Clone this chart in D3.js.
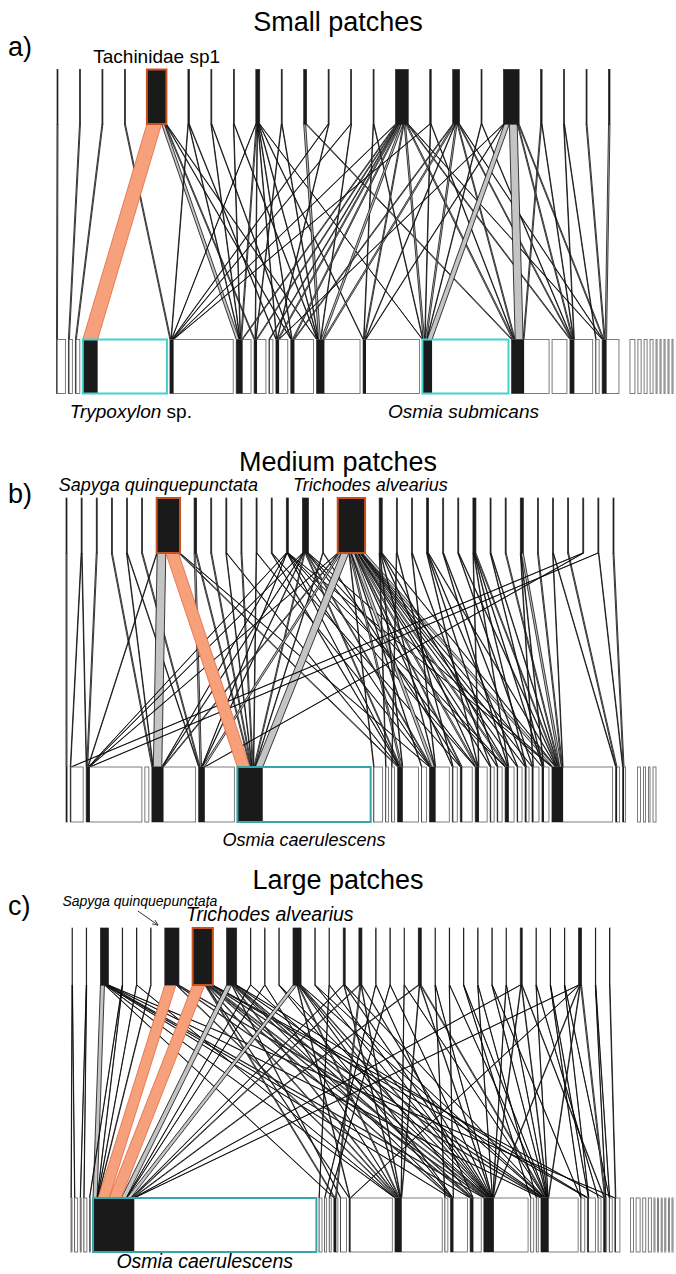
<!DOCTYPE html>
<html>
<head>
<meta charset="utf-8">
<script src="https://cdn.jsdelivr.net/npm/d3@7/dist/d3.min.js"></script>
<style>
  body { margin: 0; background: #fff; }
  svg { display: block; font-family: "Liberation Sans", Arial, sans-serif; }
</style>
</head>
<body>
<svg id="chart" width="676" height="1274"></svg>
<script>
// ---- small patches: links [parasite, host, brood cells] ----
const smallLinks = [
  [0, 0, 4], [1, 1, 4], [2, 2, 4], [3, 4, 4],
  [4, 3, 60], [4, 5, 12], [4, 6, 4], [4, 9, 2], [4, 10, 2],
  [5, 4, 2], [5, 5, 2], [5, 8, 2],
  [6, 5, 2], [6, 9, 2],
  [7, 5, 2], [7, 10, 2],
  [8, 4, 1], [8, 5, 4], [8, 6, 2], [8, 8, 2], [8, 9, 2], [8, 10, 2], [8, 11, 2], [8, 12, 1],
  [9, 6, 2], [9, 10, 2],
  [10, 10, 8], [10, 13, 4],
  [11, 4, 2], [11, 8, 2],
  [12, 4, 2], [12, 10, 2],
  [13, 11, 2], [13, 12, 2],
  [14, 4, 2], [14, 5, 4], [14, 6, 4], [14, 7, 3], [14, 8, 5], [14, 9, 5], [14, 10, 8], [14, 11, 4], [14, 12, 6], [14, 13, 5], [14, 15, 4], [14, 17, 2],
  [15, 4, 2], [15, 12, 2], [15, 13, 2],
  [16, 9, 4], [16, 10, 6], [16, 11, 2], [16, 12, 6], [16, 13, 4], [16, 15, 4], [16, 17, 2],
  [17, 12, 2], [17, 15, 2],
  [18, 8, 2], [18, 11, 2], [18, 12, 20], [18, 13, 32], [18, 15, 4], [18, 17, 4],
  [19, 13, 4], [19, 15, 2],
  [20, 15, 2], [20, 16, 2],
  [21, 17, 4],
  [22, 17, 6],
];
const smallHighCount = 23;
// host abundances (cells), unlinked hosts at the end
const smallLowAbun = [36, 16, 18, 340, 256, 60, 48, 16, 48, 92, 176, 228, 348, 152, 60, 92, 14, 68,
  20, 13, 12, 12, 4, 4, 4, 4, 4];

// ---- medium patches ----
const mediumLinks = [
  [0, 0, 4], [1, 1, 2], [1, 2, 2], [2, 2, 4], [3, 4, 4], [4, 4, 2], [4, 5, 2], [5, 5, 4],
  [6, 2, 2], [6, 4, 34], [6, 6, 50], [6, 10, 4], [6, 12, 2],
  [7, 5, 6], [7, 6, 4],
  [8, 6, 4],
  [9, 6, 2], [9, 10, 2],
  [10, 6, 4],
  [11, 6, 2], [11, 12, 2],
  [12, 10, 2], [12, 14, 2],
  [13, 2, 1], [13, 4, 1], [13, 5, 1], [13, 10, 1], [13, 12, 1], [13, 15, 1], [13, 18, 1], [13, 23, 1],
  [14, 2, 2], [14, 4, 2], [14, 5, 2], [14, 6, 4], [14, 10, 4], [14, 12, 4], [14, 15, 2], [14, 18, 2], [14, 23, 2],
  [15, 6, 2], [15, 14, 2],
  [16, 2, 2], [16, 4, 4], [16, 5, 8], [16, 6, 30], [16, 7, 2], [16, 10, 6], [16, 11, 2], [16, 12, 12], [16, 13, 2],
  [16, 14, 4], [16, 15, 6], [16, 16, 2], [16, 17, 2], [16, 18, 6], [16, 19, 2], [16, 20, 2], [16, 21, 2], [16, 22, 2], [16, 23, 12],
  [17, 8, 2], [17, 10, 2], [17, 12, 2], [17, 15, 2], [17, 18, 2], [17, 23, 2],
  [18, 9, 2], [18, 13, 2],
  [19, 12, 2], [19, 16, 2],
  [20, 15, 2], [20, 17, 2], [20, 19, 2], [20, 23, 2],
  [21, 18, 2], [21, 20, 2],
  [22, 21, 2], [22, 23, 2],
  [23, 15, 2], [23, 18, 2], [23, 20, 2], [23, 22, 2], [23, 23, 4],
  [24, 22, 2], [24, 23, 2],
  [25, 23, 4],
  [26, 21, 2], [26, 22, 2], [26, 23, 8],
  [27, 23, 4],
  [28, 23, 2], [28, 24, 2],
  [29, 24, 4],
  [30, 1, 2], [30, 5, 2],
  [31, 2, 2], [31, 25, 2],
  [32, 25, 4],
];
const mediumHighCount = 33;
const mediumLowAbun = [5, 52, 224, 16, 176, 144, 536, 36, 12, 12, 84, 20, 80, 20, 48, 48, 16, 20, 36, 20, 16, 28, 28, 244, 16, 12,
  12, 8, 6, 12];

// ---- large patches ----
const largeLinks = [
  [0, 0, 1], [0, 1, 1], [1, 2, 1], [1, 3, 1],
  [2, 5, 16], [2, 9, 2], [2, 12, 2], [2, 14, 2], [2, 15, 2], [2, 16, 4], [2, 19, 2], [2, 25, 2],
  [3, 4, 1], [3, 5, 1], [4, 5, 1], [4, 12, 1], [5, 5, 2],
  [6, 5, 44], [6, 12, 4], [6, 16, 4], [6, 19, 4],
  [7, 5, 48], [7, 9, 4], [7, 11, 2], [7, 12, 4], [7, 14, 4], [7, 15, 4], [7, 16, 6], [7, 19, 4], [7, 21, 2], [7, 23, 2],
  [8, 5, 20], [8, 10, 2], [8, 12, 4], [8, 14, 2], [8, 15, 4], [8, 16, 4], [8, 19, 2], [8, 21, 2],
  [9, 5, 1], [9, 16, 1], [10, 5, 1], [10, 12, 1], [11, 14, 1], [11, 16, 1],
  [12, 5, 16], [12, 11, 2], [12, 12, 4], [12, 14, 2], [12, 15, 2], [12, 16, 4], [12, 19, 2],
  [13, 16, 1], [13, 19, 1], [14, 6, 1], [14, 16, 1],
  [15, 5, 2], [15, 12, 2], [15, 16, 2], [15, 19, 2],
  [16, 5, 4], [16, 9, 4], [16, 12, 2], [16, 16, 2],
  [17, 7, 1], [17, 15, 1], [18, 8, 1], [18, 16, 1], [19, 12, 1], [19, 19, 1],
  [20, 5, 4], [20, 12, 2], [20, 16, 2], [20, 19, 4],
  [21, 13, 1], [21, 16, 1], [22, 14, 1], [22, 19, 1], [23, 17, 1], [23, 19, 1],
  [24, 16, 1], [24, 18, 1], [25, 19, 1], [25, 20, 1], [26, 16, 1], [26, 19, 1],
  [27, 5, 2], [27, 16, 2], [27, 19, 2], [27, 23, 2],
  [28, 19, 1], [28, 22, 1], [29, 20, 1], [29, 21, 1], [30, 21, 1], [30, 24, 1],
  [31, 5, 2], [31, 11, 2], [31, 16, 2], [31, 19, 2], [31, 23, 4],
  [32, 23, 1], [32, 24, 1],
  [33, 25, 2],
];
const largeHighCount = 34;
const largeLowAbun = [4, 12, 4, 12, 4, 888, 12, 8, 8, 16, 24, 172, 188, 12, 68, 44, 176, 12, 8, 148, 16, 32, 12, 12, 12, 20,
  12, 16, 12, 12, 4, 4, 4, 4, 4, 4];

const titles = ['Small patches', 'Medium patches', 'Large patches'];
const letters = ['a)', 'b)', 'c)'];

const svg = d3.select('#chart');

const COL_BOX = '#1a1a1a';
const COL_LINK = '#c4c4c4';
const COL_HL = '#f7a17c';
const COL_HL_EDGE = '#e2673c';
const COL_HL_BOX = '#c9501f';

const panels = [
  {
    links: smallLinks, nHigh: smallHighCount, abun: smallLowAbun,
    titleY: 31, letterY: 56,
    hiTop: 69.5, hiBot: 124, loTop: 339.5, loBot: 393.5,
    hiRange: [57, 610], hiGap: 21.5, loRange: [56.5, 673], loGap: 3, tailGap: 8,
    hlLinks: [[4, 3]], hlHigh: [4], hlLow: [3, 12], cyan: '#45cfcf',
  },
  {
    links: mediumLinks, nHigh: mediumHighCount, abun: mediumLowAbun,
    titleY: 471, letterY: 503,
    hiTop: 498, hiBot: 553, loTop: 767, loBot: 822,
    hiRange: [66, 614], hiGap: 14.1, loRange: [66, 656], loGap: 3, tailGap: 9,
    hlLinks: [[6, 6]], hlHigh: [6, 16], hlLow: [6], cyan: '#34a8a8',
  },
  {
    links: largeLinks, nHigh: largeHighCount, abun: largeLowAbun,
    titleY: 889, letterY: 915,
    hiTop: 928, hiBot: 985, loTop: 1198, loBot: 1252,
    hiRange: [72, 610], hiGap: 13.7, loRange: [71, 673], loGap: 2.6, tailGap: 8,
    hlLinks: [[6, 5], [7, 5]], hlHigh: [7], hlLow: [5], cyan: '#34a8a8',
  },
];

// lay boxes out side by side, widths through a linear scale
function layout(totals, range, gap, tailStart, tailGap) {
  const n = totals.length;
  const extra = tailStart < n ? tailGap : 0;
  const w = d3.scaleLinear()
    .domain([0, d3.sum(totals)])
    .range([0, range[1] - range[0] - gap * (n - 1) - extra]);
  let pos = range[0];
  const boxes = totals.map((t, i) => {
    if (i === tailStart && i > 0) pos += extra;
    const b = { x: pos, w: w(t) };
    pos += w(t) + gap;
    return b;
  });
  return { boxes, w };
}

function drawPanel(p, k) {
  const g = svg.append('g').attr('class', 'panel-' + k);

  const hiTot = d3.range(p.nHigh).map(i => d3.sum(p.links.filter(l => l[0] === i), l => l[2]));
  const loInt = p.abun.map((_, j) => d3.sum(p.links.filter(l => l[1] === j), l => l[2]));
  const lastLinked = d3.max(p.links, l => l[1]);

  const hi = layout(hiTot, p.hiRange, p.hiGap, p.nHigh, 0);
  const lo = layout(p.abun.map((a, j) => Math.max(a, loInt[j])), p.loRange, p.loGap, lastLinked + 1, p.tailGap);

  // link end segments
  const hiOff = hiTot.map(() => 0);
  const loOff = loInt.map(() => 0);
  const segs = [];
  p.links.slice().sort((a, b) => a[0] - b[0] || a[1] - b[1]).forEach(l => {
    const [i, j, n] = l;
    const hb = hi.boxes[i];
    const x0 = hb.x + hi.w(hiOff[i]);
    hiOff[i] += n;
    segs.push({ i, j, n, hx0: x0, hx1: hb.x + hi.w(hiOff[i]) });
  });
  segs.slice().sort((a, b) => a.j - b.j || a.i - b.i).forEach(s => {
    const lb = lo.boxes[s.j];
    s.lx0 = lb.x + lo.w(loOff[s.j]);
    loOff[s.j] += s.n;
    s.lx1 = lb.x + lo.w(loOff[s.j]);
    s.hl = p.hlLinks.some(h => h[0] === s.i && h[1] === s.j);
  });

  const poly = s => [[s.hx0, p.hiBot], [s.hx1, p.hiBot], [s.lx1, p.loTop], [s.lx0, p.loTop]];
  const line = d3.line();

  g.append('g').selectAll('path')
    .data(segs.filter(s => !s.hl))
    .join('path')
    .attr('d', s => line(poly(s)) + 'Z')
    .attr('fill', COL_LINK)
    .attr('stroke', '#000')
    .attr('stroke-width', 0.75)
    .attr('stroke-linejoin', 'round');

  g.append('g').selectAll('path')
    .data(segs.filter(s => s.hl))
    .join('path')
    .attr('d', s => line(poly(s)) + 'Z')
    .attr('fill', COL_HL)
    .attr('stroke', COL_HL_EDGE)
    .attr('stroke-width', 0.8);

  // parasite boxes
  g.append('g').selectAll('rect')
    .data(hi.boxes)
    .join('rect')
    .attr('x', b => b.x)
    .attr('y', p.hiTop)
    .attr('width', b => b.w)
    .attr('height', p.hiBot - p.hiTop)
    .attr('fill', COL_BOX)
    .attr('stroke', (b, i) => p.hlHigh.includes(i) ? COL_HL_BOX : '#222')
    .attr('stroke-width', (b, i) => p.hlHigh.includes(i) ? 2 : 0.7);

  // host boxes: abundance outline, interaction part in black
  const lg = g.append('g');
  lg.selectAll('rect.abun')
    .data(lo.boxes)
    .join('rect')
    .attr('class', 'abun')
    .attr('x', b => b.x)
    .attr('y', p.loTop)
    .attr('width', b => b.w)
    .attr('height', p.loBot - p.loTop)
    .attr('fill', '#fff')
    .attr('stroke', '#6e6e6e')
    .attr('stroke-width', 0.9);
  lg.selectAll('rect.int')
    .data(lo.boxes.filter((b, j) => loInt[j] > 0))
    .join('rect')
    .attr('class', 'int')
    .attr('x', b => b.x)
    .attr('y', p.loTop)
    .attr('width', b => lo.w(loInt[lo.boxes.indexOf(b)]))
    .attr('height', p.loBot - p.loTop)
    .attr('fill', COL_BOX);
  lg.selectAll('rect.hl')
    .data(p.hlLow.map(j => lo.boxes[j]))
    .join('rect')
    .attr('class', 'hl')
    .attr('x', b => b.x)
    .attr('y', p.loTop)
    .attr('width', b => b.w)
    .attr('height', p.loBot - p.loTop)
    .attr('fill', 'none')
    .attr('stroke', p.cyan)
    .attr('stroke-width', 2);

  // titles
  g.append('text')
    .attr('x', 338)
    .attr('y', p.titleY)
    .attr('text-anchor', 'middle')
    .attr('font-size', 27)
    .text(titles[k]);
  g.append('text')
    .attr('x', 8)
    .attr('y', p.letterY)
    .attr('font-size', 27)
    .text(letters[k]);

  return { hi, lo, g };
}

const res = panels.map(drawPanel);

function centerHi(r, i) { const b = r.hi.boxes[i]; return b.x + b.w / 2; }
function centerLo(r, j) { const b = r.lo.boxes[j]; return b.x + b.w / 2; }

// species labels
const a = res[0], b = res[1], c = res[2];

a.g.append('text')
  .attr('x', centerHi(a, 4))
  .attr('y', 63)
  .attr('text-anchor', 'middle')
  .attr('font-size', 19)
  .text('Tachinidae sp1');

const tryp = a.g.append('text')
  .attr('x', centerLo(a, 3) + 6)
  .attr('y', 418)
  .attr('text-anchor', 'middle')
  .attr('font-size', 19);
tryp.append('tspan').attr('font-style', 'italic').text('Trypoxylon');
tryp.append('tspan').text(' sp.');

a.g.append('text')
  .attr('x', centerLo(a, 12) - 2)
  .attr('y', 418)
  .attr('text-anchor', 'middle')
  .attr('font-size', 19)
  .attr('font-style', 'italic')
  .text('Osmia submicans');

b.g.append('text')
  .attr('x', centerHi(b, 6) - 10)
  .attr('y', 491)
  .attr('text-anchor', 'middle')
  .attr('font-size', 18)
  .attr('font-style', 'italic')
  .text('Sapyga quinquepunctata');

b.g.append('text')
  .attr('x', centerHi(b, 16) + 19)
  .attr('y', 491)
  .attr('text-anchor', 'middle')
  .attr('font-size', 18)
  .attr('font-style', 'italic')
  .text('Trichodes alvearius');

b.g.append('text')
  .attr('x', centerLo(b, 6))
  .attr('y', 846)
  .attr('text-anchor', 'middle')
  .attr('font-size', 18)
  .attr('font-style', 'italic')
  .text('Osmia caerulescens');

c.g.append('text')
  .attr('x', centerHi(c, 6) - 32)
  .attr('y', 906)
  .attr('text-anchor', 'middle')
  .attr('font-size', 14)
  .attr('font-style', 'italic')
  .text('Sapyga quinquepunctata');

// little arrow to the Sapyga box
const ax = centerHi(c, 6) - 14;
c.g.append('defs').append('marker')
  .attr('id', 'arr')
  .attr('viewBox', '0 0 10 10')
  .attr('refX', 9).attr('refY', 5)
  .attr('markerWidth', 6).attr('markerHeight', 6)
  .attr('orient', 'auto')
  .append('path')
  .attr('d', 'M0,1L10,5L0,9')
  .attr('fill', 'none')
  .attr('stroke', '#333')
  .attr('stroke-width', 1.4);
c.g.append('line')
  .attr('x1', ax - 20).attr('y1', 911)
  .attr('x2', ax).attr('y2', 925)
  .attr('stroke', '#333')
  .attr('stroke-width', 1)
  .attr('marker-end', 'url(#arr)');

c.g.append('text')
  .attr('x', centerHi(c, 7) + 67)
  .attr('y', 921)
  .attr('text-anchor', 'middle')
  .attr('font-size', 19.5)
  .attr('font-style', 'italic')
  .text('Trichodes alvearius');

c.g.append('text')
  .attr('x', centerLo(c, 5))
  .attr('y', 1268)
  .attr('text-anchor', 'middle')
  .attr('font-size', 19.5)
  .attr('font-style', 'italic')
  .text('Osmia caerulescens');
</script>
</body>
</html>
